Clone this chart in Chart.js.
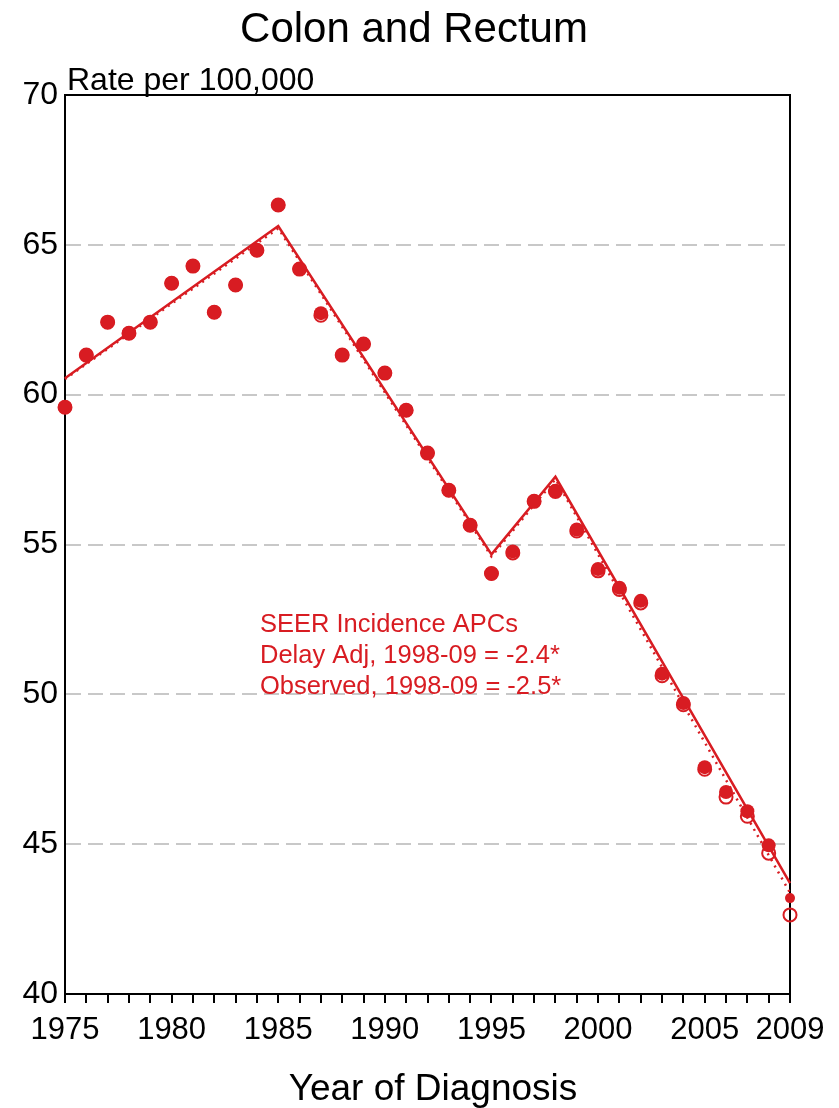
<!DOCTYPE html>
<html><head><meta charset="utf-8">
<script src="https://cdn.jsdelivr.net/npm/chart.js@4/dist/chart.umd.min.js"></script>
<style>html,body{margin:0;padding:0;background:#fff}#wrap{width:839px;height:1108px;position:relative}canvas{display:block}</style>
</head><body><div id="wrap"><canvas id="c" width="839" height="1108"></canvas></div>
<script>
const years = [1975,1976,1977,1978,1979,1980,1981,1982,1983,1984,1985,1986,1987,1988,1989,1990,1991,1992,1993,1994,1995,1996,1997,1998,1999,2000,2001,2002,2003,2004,2005,2006,2007,2008,2009];
const delayAdjRates = [59.58,61.32,62.42,62.05,62.42,63.72,64.29,62.75,63.66,64.82,66.33,64.19,62.72,61.32,61.69,60.72,59.48,58.05,56.81,55.64,54.03,54.77,56.44,56.79,55.50,54.18,53.56,53.12,50.69,49.71,47.57,46.74,46.10,44.96,43.20];
const observedRates = [59.58,61.32,62.42,62.05,62.42,63.72,64.29,62.75,63.66,64.82,66.33,64.19,62.65,61.32,61.69,60.72,59.48,58.05,56.81,55.64,54.03,54.72,56.44,56.77,55.45,54.12,53.50,53.05,50.62,49.65,47.50,46.57,45.93,44.70,42.64];
const trendYears = [1975,1985,1995,1998,2009];
const delayAdjTrend = [60.55,65.63,54.67,57.26,43.70];
const observedTrend = [60.52,65.55,54.60,57.18,43.38];
const yTicks = [40,45,50,55,60,65,70];
const xLabelYears = [1975,1980,1985,1990,1995,2000,2005,2009];
const titleText = 'Colon and Rectum';
const yAxisLabel = 'Rate per 100,000';
const xAxisLabel = 'Year of Diagnosis';
const apcLines = ['SEER Incidence APCs','Delay Adj, 1998-09 = -2.4*','Observed, 1998-09 = -2.5*'];

const RED = '#d81c22';
const FONT = "'Liberation Sans', Arial, sans-serif";
const toXY = (xs, ys) => xs.map((x, i) => ({x: x, y: ys[i]}));

const textPlugin = {
  id: 'texts',
  beforeDatasetsDraw(chart) {
    const {ctx, chartArea: a} = chart;
    ctx.save();
    ctx.strokeStyle = '#000';
    ctx.lineWidth = 2;
    ctx.beginPath();
    ctx.moveTo(a.left, a.top); ctx.lineTo(a.right, a.top); ctx.lineTo(a.right, a.bottom);
    ctx.stroke();
    ctx.restore();
  },
  afterDraw(chart) {
    const {ctx} = chart;
    ctx.save();
    ctx.fillStyle = '#000';
    ctx.textBaseline = 'alphabetic';
    ctx.textAlign = 'center';
    ctx.font = '42px ' + FONT;
    ctx.fillText(titleText, 414, 42);
    ctx.textAlign = 'left';
    ctx.font = '32px ' + FONT;
    ctx.fillText(yAxisLabel, 67, 90);
    ctx.textAlign = 'center';
    ctx.font = '37px ' + FONT;
    ctx.fillText(xAxisLabel, 433, 1100);
    ctx.textAlign = 'left';
    ctx.fillStyle = RED;
    ctx.font = '25.5px ' + FONT;
    apcLines.forEach((t, i) => ctx.fillText(t, 260, 632 + i * 31));
    ctx.restore();
  }
};

new Chart(document.getElementById('c'), {
  type: 'line',
  data: {
    datasets: [
      {label: 'Delay Adj', data: toXY(years, delayAdjRates), showLine: false,
        pointRadius: years.map(y => y === 2009 ? 5 : 7), pointBackgroundColor: RED, pointBorderColor: RED, pointBorderWidth: 0, order: 1, clip: false},
      {label: 'Observed', data: toXY(years, observedRates), showLine: false,
        pointRadius: 6.5, pointBackgroundColor: 'rgba(255,255,255,0)', pointBorderColor: RED, pointBorderWidth: 2, order: 2, clip: false},
      {label: 'Delay Adj Trend', data: toXY(trendYears, delayAdjTrend), borderColor: RED, borderWidth: 2.5,
        pointRadius: 0, tension: 0, order: 3, clip: false},
      {label: 'Observed Trend', data: toXY(trendYears, observedTrend), borderColor: RED, borderWidth: 2.5,
        borderDash: [2, 5], pointRadius: 0, tension: 0, order: 4, clip: false}
    ]
  },
  options: {
    responsive: false,
    animation: false,
    devicePixelRatio: 1,
    layout: {padding: {top: 95, right: 49, left: 0, bottom: 0}},
    plugins: {legend: {display: false}, tooltip: {enabled: false}, title: {display: false}},
    scales: {
      x: {
        type: 'linear', min: 1975, max: 2009,
        afterFit(s) { s.height = 114; },
        afterBuildTicks(s) { s.ticks = years.map(v => ({value: v})); },
        ticks: {
          autoSkip: false, maxRotation: 0, minRotation: 0, padding: 9,
          color: '#000', font: {family: FONT, size: 31},
          callback: v => xLabelYears.includes(v) ? String(v) : ''
        },
        grid: {display: true, drawOnChartArea: false, drawTicks: true, tickLength: 9, color: '#000', lineWidth: 2},
        border: {display: true, color: '#000', width: 2}
      },
      y: {
        min: 40, max: 70,
        afterFit(s) { s.width = 65; },
        afterBuildTicks(s) { s.ticks = yTicks.map(v => ({value: v})); },
        ticks: {padding: 7, color: '#000', font: {family: FONT, size: 32}},
        grid: {
          drawTicks: false, lineWidth: 2,
          color: c => (c.tick && (c.tick.value === 40 || c.tick.value === 70)) ? 'rgba(0,0,0,0)' : '#c8c8c8'
        },
        border: {display: true, color: '#000', width: 2, dash: [15, 7]}
      }
    }
  },
  plugins: [textPlugin]
});
</script>
</body></html>
